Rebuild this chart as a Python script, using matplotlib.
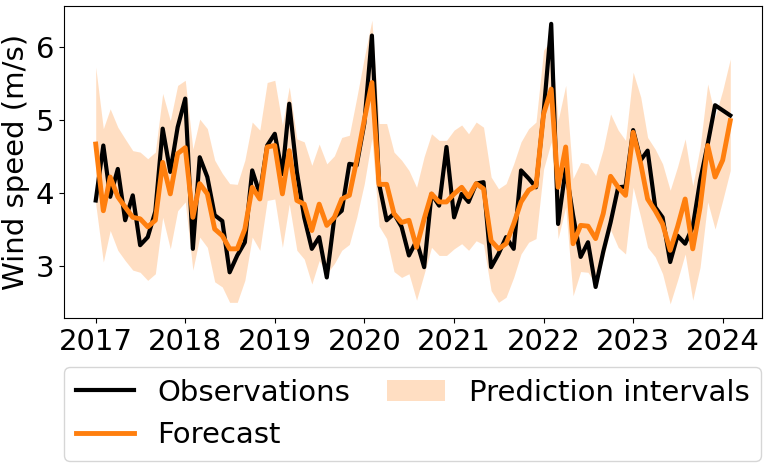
import pandas as pd
import matplotlib
matplotlib.use('Agg')
import matplotlib.pyplot as plt
import matplotlib.dates as mdates

dates = pd.date_range('2017-01-01', periods=86, freq='MS')

observations = [3.90, 4.65, 3.95, 4.33, 3.63, 3.97, 3.29, 3.40, 3.75, 4.88,
                4.29, 4.90, 5.29, 3.24, 4.49, 4.22, 3.70, 3.62, 2.92, 3.15,
                3.33, 4.31, 3.99, 4.65, 4.81, 4.26, 5.22, 4.29, 3.67, 3.24,
                3.40, 2.85, 3.67, 3.76, 4.40, 4.38, 4.95, 6.15, 4.13, 3.63,
                3.72, 3.54, 3.15, 3.35, 2.99, 3.99, 3.83, 4.63, 3.67, 3.99,
                3.88, 4.13, 4.15, 2.99, 3.17, 3.40, 3.24, 4.31, 4.20, 4.08,
                5.10, 6.31, 3.58, 4.33, 3.70, 3.13, 3.33, 2.72, 3.20, 3.60,
                4.08, 4.09, 4.86, 4.45, 4.58, 3.81, 3.67, 3.06, 3.42, 3.31,
                3.54, 4.17, 4.67, 5.20, 5.13, 5.06]

forecast = [4.67, 3.76, 4.22, 3.95, 3.81, 3.67, 3.65, 3.54, 3.63, 4.42,
            3.99, 4.54, 4.62, 3.67, 4.13, 3.99, 3.51, 3.42, 3.24, 3.24,
            3.51, 4.08, 3.92, 4.63, 4.65, 3.99, 4.58, 3.90, 3.85, 3.49,
            3.85, 3.56, 3.67, 3.92, 3.97, 4.45, 5.00, 5.51, 4.12, 4.12,
            3.72, 3.60, 3.63, 3.26, 3.65, 3.99, 3.88, 3.88, 3.99, 4.08,
            3.95, 4.13, 4.06, 3.35, 3.24, 3.31, 3.58, 3.88, 4.04, 4.10,
            5.08, 5.42, 4.08, 4.63, 3.31, 3.56, 3.55, 3.38, 3.72, 4.23,
            4.08, 3.97, 4.83, 4.40, 3.92, 3.76, 3.58, 3.22, 3.54, 3.92,
            3.24, 3.81, 4.65, 4.22, 4.45, 4.99]

upper = [5.72, 4.88, 5.15, 4.90, 4.74, 4.58, 4.56, 4.47, 4.56, 5.36,
         4.99, 5.47, 5.54, 4.60, 5.01, 4.88, 4.45, 4.27, 4.13, 4.12,
         4.45, 4.97, 4.86, 5.51, 5.54, 4.93, 5.45, 4.74, 4.70, 4.38,
         4.67, 4.40, 4.51, 4.76, 4.79, 5.30, 5.85, 6.36, 4.95, 4.95,
         4.56, 4.45, 4.31, 4.08, 4.50, 4.81, 4.72, 4.72, 4.86, 4.93,
         4.81, 4.97, 4.90, 4.22, 4.06, 4.13, 4.40, 4.70, 4.88, 4.97,
         5.95, 6.10, 4.99, 5.47, 4.20, 4.42, 4.40, 4.24, 4.60, 5.08,
         4.86, 4.72, 5.65, 5.31, 4.76, 4.60, 4.40, 4.04, 4.36, 4.74,
         4.10, 4.63, 5.49, 5.04, 5.40, 5.83]

lower = [3.85, 3.06, 3.49, 3.22, 3.08, 2.95, 2.92, 2.81, 2.90, 3.67,
         3.24, 3.76, 3.88, 2.95, 3.40, 3.26, 2.79, 2.72, 2.51, 2.51,
         2.81, 3.40, 3.22, 3.90, 3.92, 3.26, 3.85, 3.22, 3.10, 2.76,
         3.08, 2.90, 3.04, 3.22, 3.30, 3.67, 4.13, 4.75, 3.55, 3.38,
         2.93, 2.85, 2.90, 2.54, 2.90, 3.26, 3.15, 3.15, 3.24, 3.31,
         3.22, 3.35, 3.30, 2.67, 2.51, 2.58, 2.85, 3.17, 3.33, 3.38,
         4.33, 4.70, 3.38, 3.81, 2.60, 2.93, 2.92, 2.76, 3.10, 3.50,
         3.26, 3.17, 4.08, 3.67, 3.26, 3.13, 2.90, 2.49, 2.81, 3.17,
         2.54, 2.99, 3.88, 3.51, 3.90, 4.31]

plt.rcParams['font.size'] = 21

fig = plt.figure(figsize=(7.68, 4.67), dpi=100)
ax = fig.add_axes([64/768, 1 - 318/467, 698/768, 312/467])

ax.plot(dates, observations, color='black', linewidth=3, label='Observations')
ax.plot(dates, forecast, color='tab:orange', linewidth=3.5, label='Forecast')
ax.fill_between(dates, lower, upper, color='tab:orange', alpha=0.25,
                linewidth=0, label='Prediction intervals')

ax.xaxis.set_major_locator(mdates.YearLocator())
ax.xaxis.set_major_formatter(mdates.DateFormatter('%Y'))
ax.set_yticks([3, 4, 5, 6])
ax.set_ylabel('Wind speed (m/s)')

ax.legend(loc='upper left', ncol=2, mode='expand',
          bbox_to_anchor=(64/768, 0.0, 697/768, 1 - 367/467),
          bbox_transform=fig.transFigure, borderaxespad=0)

fig.savefig('out.png', dpi=100)
